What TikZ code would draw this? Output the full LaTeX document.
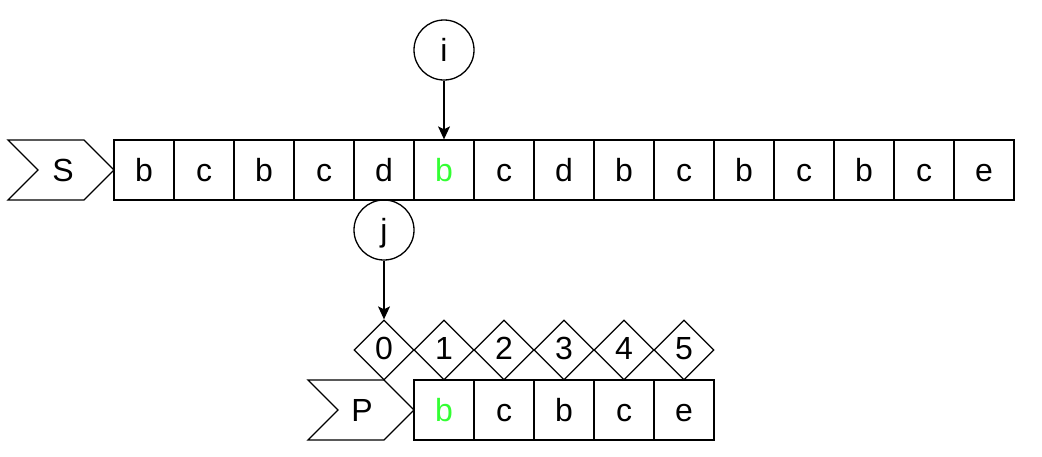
\documentclass[tikz,border=0pt]{standalone}
\usepackage{fontspec}
\setmainfont{Liberation Sans}
\usetikzlibrary{arrows.meta,shapes.geometric}
\definecolor{hlgreen}{RGB}{51,255,51}
\begin{document}
\begin{tikzpicture}[x=1pt,y=-1pt,
  every node/.style={font=\fontsize{32}{38}\selectfont},
  lbl/.style={text height=24pt,text depth=0.6pt,inner sep=0pt},
  cell/.style={lbl,draw,line width=1.3pt,minimum width=60pt,minimum height=60pt,anchor=center},
  idx/.style={draw,line width=1.3pt,diamond,minimum width=60pt,minimum height=60pt,inner sep=0pt,shape aspect=1,text height=21pt,text depth=2pt},
  ptr/.style={lbl,draw,line width=1.3pt,circle,minimum size=60pt},
  chev/.style={draw,line width=1.3pt,line join=miter},
  arr/.style={-{Stealth[length=13pt,width=12pt,inset=3pt]},line width=1.3pt},
  hl/.style={text=hlgreen}]
\useasboundingbox (0,0) rectangle (1042,456);
% S chevron
\draw[chev] (8,140) -- (84,140) -- (114,170) -- (84,200) -- (8,200) -- (38,170) -- cycle;
\node[lbl] (S) at (63,170) {S};
% S cells
\foreach \ch [count=\k from 0] in {b,c,b,c,d,b,c,d,b,c,b,c,b,c,e}{
  \ifnum\k=5
    \node[cell,hl] (s\k) at (144+60*\k,170) {\ch};
  \else
    \node[cell] (s\k) at (144+60*\k,170) {\ch};
  \fi
}
% pointer i
\node[ptr] (i) at (444,50) {i};
\draw[arr] (i.south) -- (s5.north);
% pointer j
\node[ptr] (j) at (384,230) {j};
% diamonds
\foreach \n [count=\k from 0] in {0,...,5}{
  \node[idx] (d\k) at (384+60*\k,350) {\n};
}
\draw[arr] (j.south) -- (d0.north);
% P chevron
\draw[chev] (308,380) -- (384,380) -- (414,410) -- (384,440) -- (308,440) -- (338,410) -- cycle;
\node[lbl] (P) at (362,410) {P};
\foreach \ch [count=\k from 0] in {b,c,b,c,e}{
  \ifnum\k=0
    \node[cell,hl] (p\k) at (444+60*\k,410) {\ch};
  \else
    \node[cell] (p\k) at (444+60*\k,410) {\ch};
  \fi
}
\end{tikzpicture}
\end{document}
